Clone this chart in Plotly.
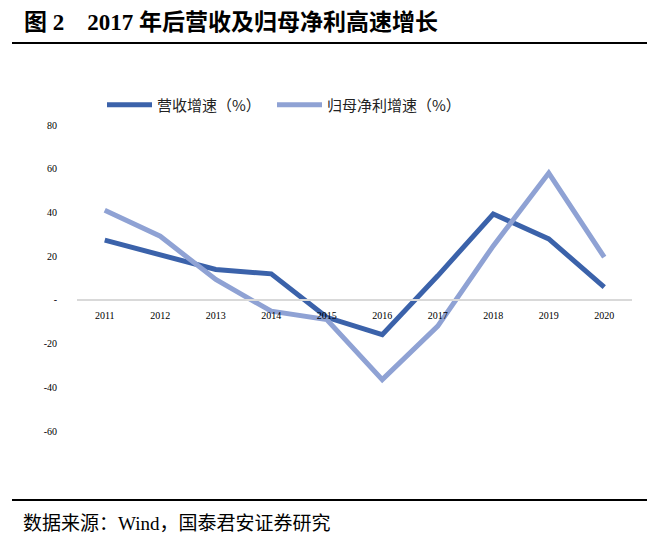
import plotly.graph_objects as go

# data
years = ["2011", "2012", "2013", "2014", "2015", "2016", "2017", "2018", "2019", "2020"]
revenue_growth = [27.3, 20.7, 13.9, 11.9, -8.0, -15.9, 11.0, 39.3, 27.9, 5.8]
profit_growth = [41.0, 29.1, 9.3, -5.2, -9.0, -36.5, -12.0, 24.7, 58.0, 19.5]
ytick_vals = [80, 60, 40, 20, 0, -20, -40, -60]
ytick_text = ["80", "60", "40", "20", "-", "-20", "-40", "-60"]

SERIF = "Liberation Serif, Noto Sans CJK SC"
# the page body adds an 8px margin, so the figure is drawn 8px smaller
OFF = 8
W, H = 655 - OFF, 544 - OFF
L, R, T, B = 77 - OFF, 23, 125 - OFF, 113


def px_x(p):
    # p is a position in the 655x544 window
    return (p - OFF - L) / (W - L - R)


def px_y(p):
    return (H - B - (p - OFF)) / (H - T - B)


fig = go.Figure()
fig.add_trace(go.Scatter(x=years, y=revenue_growth, mode="lines", name="营收增速（%）",
                         line=dict(color="#3B62AA", width=5), legend="legend"))
fig.add_trace(go.Scatter(x=years, y=profit_growth, mode="lines", name="归母净利增速（%）",
                         line=dict(color="#8FA2D4", width=5), legend="legend2"))

zero_pos = 60 / 140
legend_style = dict(orientation="h", xanchor="left", y=px_y(105), yanchor="middle",
                    font=dict(size=15, family="Noto Sans CJK SC", color="#222"),
                    itemwidth=45, bgcolor="rgba(0,0,0,0)")

fig.update_layout(
    width=W, height=H,
    margin=dict(l=L, r=R, t=T, b=B),
    paper_bgcolor="white", plot_bgcolor="white",
    font=dict(family=SERIF, color="black"),
    showlegend=True,
    legend=dict(x=px_x(102), **legend_style),
    legend2=dict(x=px_x(272), **legend_style),
    xaxis=dict(range=[-0.5, 9.5], anchor="free", position=zero_pos,
               showline=True, linecolor="#D9D9D9", linewidth=2,
               showgrid=False, zeroline=False, ticks="", ticklabelstandoff=6,
               tickfont=dict(size=10, family="Liberation Serif")),
    yaxis=dict(range=[-60, 80], tickvals=ytick_vals, ticktext=ytick_text,
               showgrid=False, zeroline=False, showline=False, ticks="",
               ticklabelstandoff=19,
               tickfont=dict(size=10, family="Liberation Serif")),
    shapes=[
        dict(type="line", xref="paper", yref="paper", x0=px_x(12), x1=px_x(660),
             y0=px_y(43), y1=px_y(43), line=dict(color="black", width=2)),
        dict(type="line", xref="paper", yref="paper", x0=px_x(12), x1=px_x(660),
             y0=px_y(500), y1=px_y(500), line=dict(color="black", width=2)),
    ],
    annotations=[
        dict(text="<b>图 2    2017 年后营收及归母净利高速增长</b>", xref="paper", yref="paper",
             x=px_x(22), y=px_y(22), xanchor="left", yanchor="middle", showarrow=False,
             font=dict(size=23, family=SERIF, color="black")),
        dict(text="数据来源：Wind，国泰君安证券研究", xref="paper", yref="paper",
             x=px_x(21), y=px_y(523), xanchor="left", yanchor="middle", showarrow=False,
             font=dict(size=19, family=SERIF, color="black")),
    ],
)

fig.write_html("out.html")
